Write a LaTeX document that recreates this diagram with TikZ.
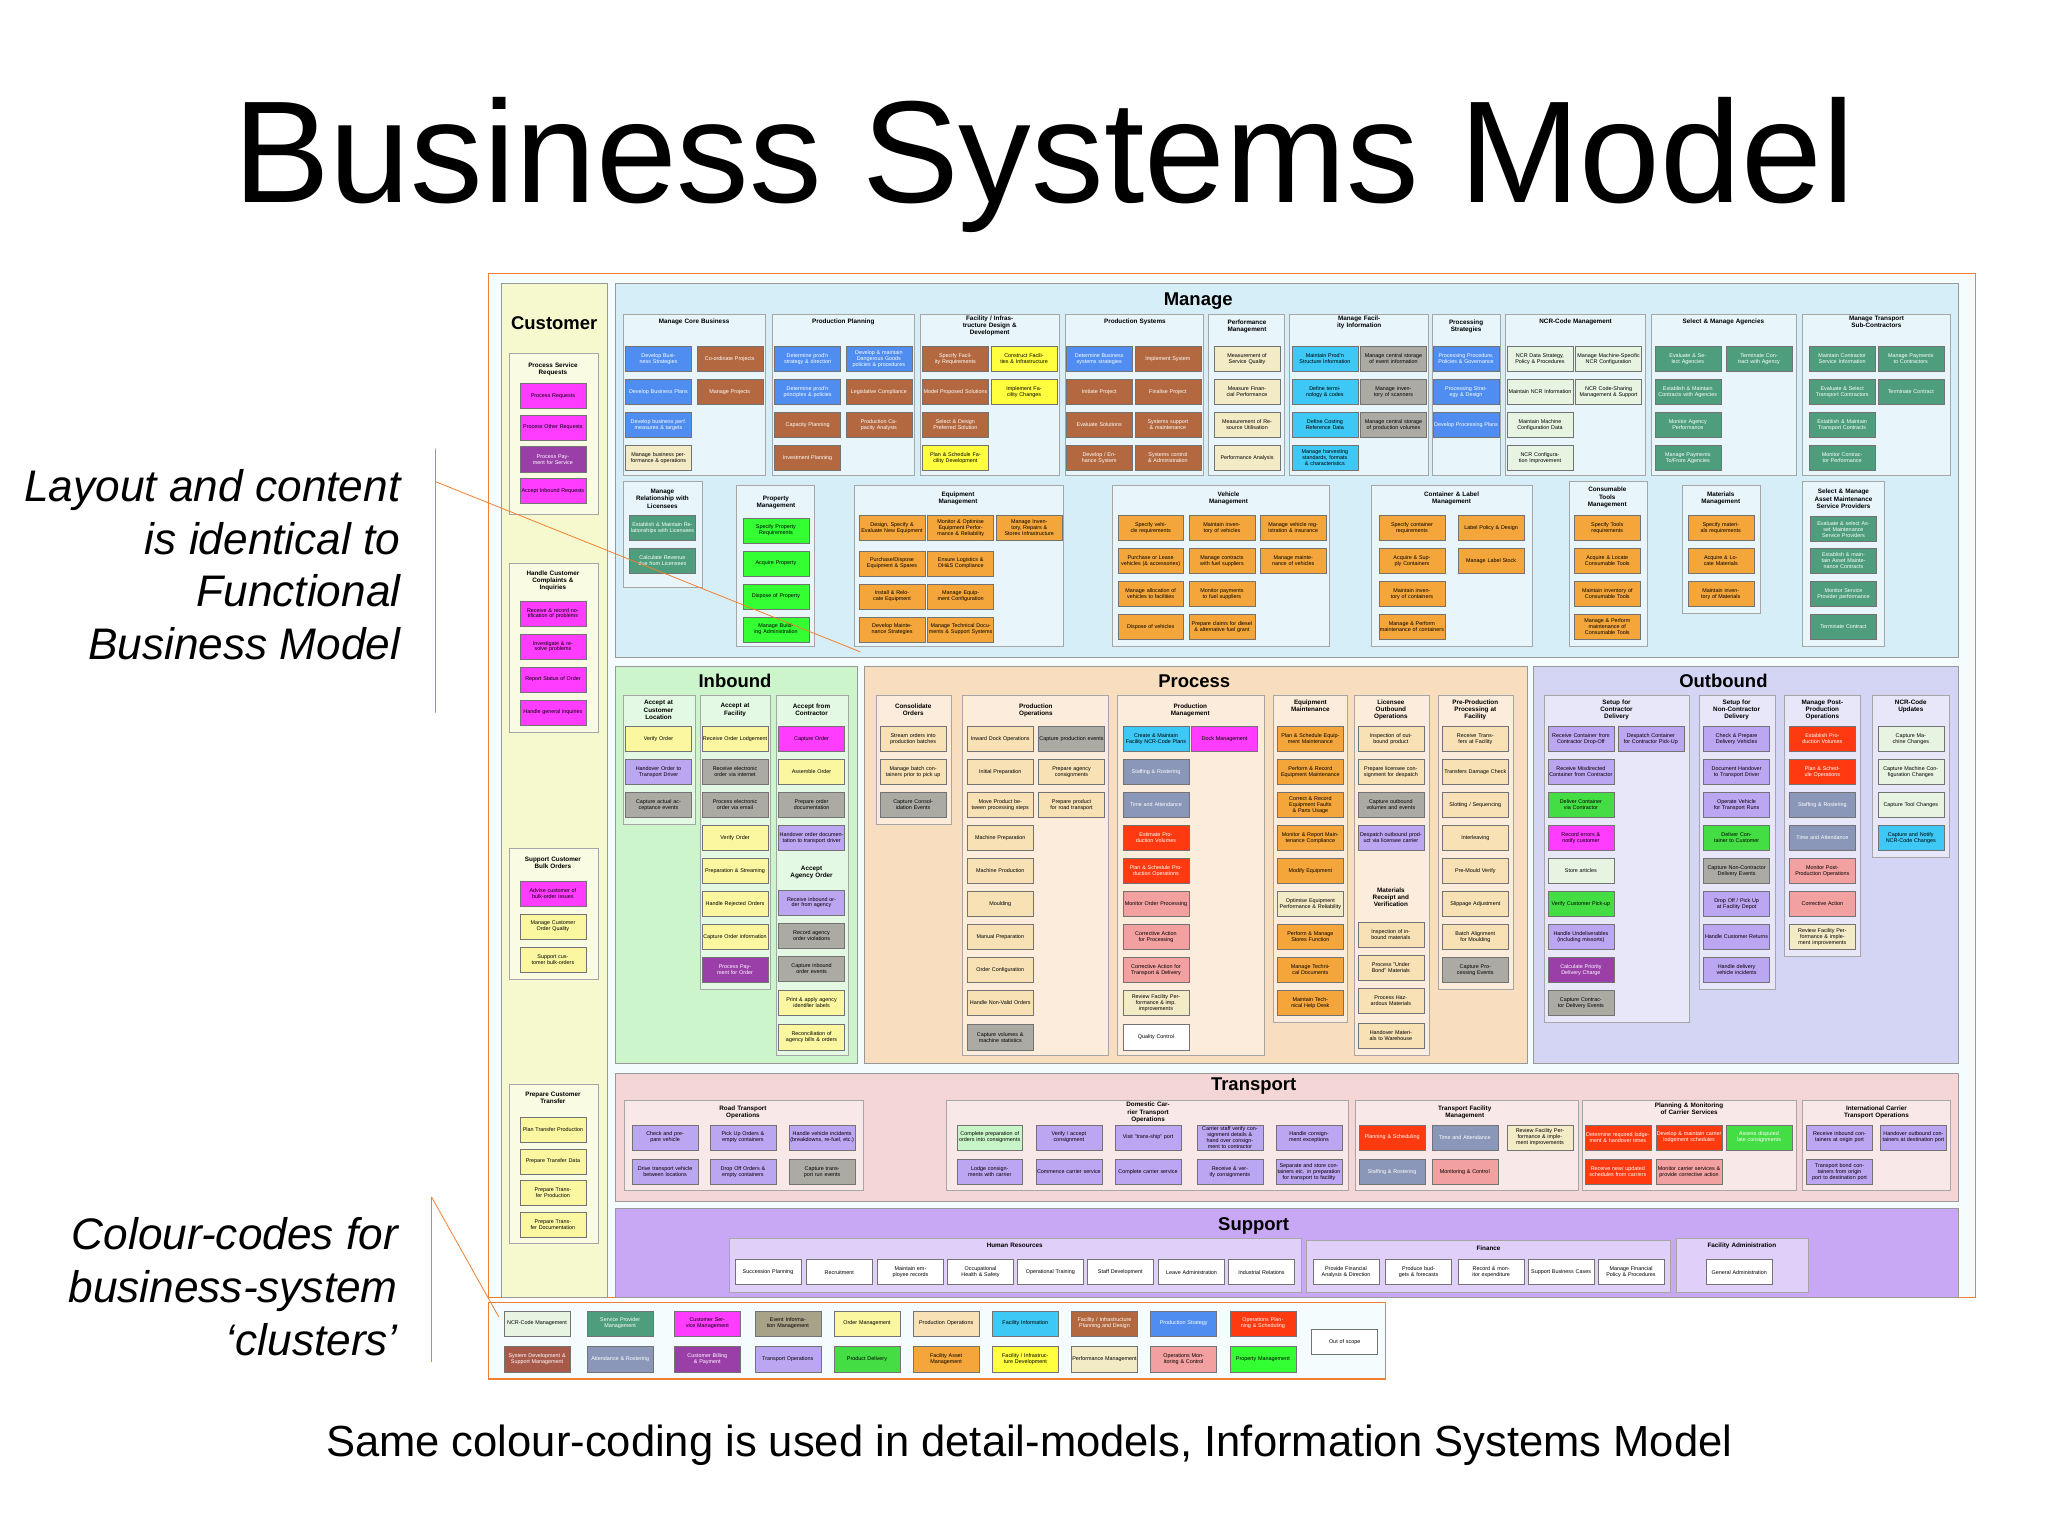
\documentclass[tikz,border=0pt]{standalone}
\usepackage{fontspec}
\setmainfont{Liberation Sans}
\begin{document}
\begin{tikzpicture}[x=1pt,y=-1pt]
\definecolor{cY}{HTML}{FAF7A0}\definecolor{cT}{HTML}{4E9E7E}\definecolor{cB}{HTML}{4F8EF0}
\definecolor{cBr}{HTML}{B3683F}\definecolor{cG}{HTML}{ABABA3}\definecolor{cM}{HTML}{FF3CFF}
\definecolor{cPu}{HTML}{9A3FA8}\definecolor{cL}{HTML}{BBA6F2}\definecolor{cGr}{HTML}{44DD44}
\definecolor{cPG}{HTML}{33FF33}\definecolor{cO}{HTML}{F4A63A}\definecolor{cR}{HTML}{FF3A10}
\definecolor{cC}{HTML}{3DC8F5}\definecolor{cYe}{HTML}{FFFF40}\definecolor{cTan}{HTML}{F3EAC6}
\definecolor{cP}{HTML}{F7E1B5}\definecolor{cPk}{HTML}{F2A0A0}\definecolor{cSb}{HTML}{8A97B8}
\definecolor{cN}{HTML}{E8F4E2}\definecolor{cSD}{HTML}{A85A4A}\definecolor{cEv}{HTML}{A8A288}
\definecolor{frame}{HTML}{F08030}
\tikzset{
 bx/.style={draw=black!55,line width=0.3pt,minimum width=50,minimum height=19,text width=49,align=center,inner sep=0.3pt,font=\fontsize{4.1}{4.5}\selectfont},
 wt/.style={text=white},
 sub/.style={draw=black!35,line width=0.4pt,fill=white,fill opacity=0.45,text opacity=1},
 hd/.style={font=\fontsize{4.8}{5.4}\selectfont\bfseries,align=center,text width=62},
 big/.style={font=\fontsize{14}{16}\selectfont\bfseries},
 ann/.style={font=\fontsize{33.5}{40}\selectfont\itshape,align=right,anchor=east},
 ol/.style={draw=frame,line width=0.8pt}
}
\newcounter{bxc}
\newcommand\Bx[4]{\stepcounter{bxc}\node[bx,fill=#3] (b\arabic{bxc}) at (#1,#2) {#4};}
\newcommand\Wx[4]{\stepcounter{bxc}\node[bx,fill=#3,wt] (b\arabic{bxc}) at (#1,#2) {#4};}
\newcommand\Hd[3]{\stepcounter{bxc}\node[hd] (h\arabic{bxc}) at (#1,#2) {#3};}
\useasboundingbox (0,0) rectangle (1552,1164);
\fill[white] (0,0) rectangle (1552,1164);
% title
\node[font=\fontsize{110}{110}\selectfont] (title) at (791,125) {Business Systems Model};
% annotations
\node[ann] (a1) at (307,428) {Layout and content\\is identical to\\Functional\\Business Model};
\node[ann] (a2) at (305,975) {Colour-codes for\\business-system\\‘clusters’};
\node[font=\fontsize{33}{38}\selectfont] (cap) at (780,1095) {Same colour-coding is used in detail-models, Information Systems Model};
% frame and clusters
\draw[ol,fill=cyan!4] (370,207) rectangle (1497,983);
\draw[black!40,fill={rgb,255:red,245;green,249;blue,205}] (380,215) rectangle (460,983);
\draw[black!40,fill={rgb,255:red,214;green,238;blue,248}] (466,215) rectangle (1484,498);
\draw[black!40,fill={rgb,255:red,204;green,245;blue,204}] (466,505) rectangle (650,806);
\draw[black!40,fill={rgb,255:red,248;green,222;blue,190}] (655,505) rectangle (1157,806);
\draw[black!40,fill={rgb,255:red,212;green,212;blue,245}] (1162,505) rectangle (1484,806);
\draw[black!40,fill={rgb,255:red,245;green,214;blue,214}] (466,813) rectangle (1484,910);
\draw[black!40,fill={rgb,255:red,200;green,168;blue,245}] (466,916) rectangle (1484,983);
\node[big] (tCu) at (420,245) {Customer};
\node[big] (tMa) at (908,228) {Manage};
\node[big] (tIn) at (557,516) {Inbound};
\node[big] (tPr) at (905,516) {Process};
\node[big] (tOu) at (1306,516) {Outbound};
\node[big] (tTr) at (950,823) {Transport};
\node[big] (tSu) at (950,929) {Support};
% ---------------- Customer
\draw[sub] (386,268) rectangle (453,390); \Hd{419}{280}{Process Service\\Requests}
\Bx{419}{300}{cM}{Process Requests}\Bx{419}{324}{cM}{Process Other Requests}\Wx{419}{348}{cPu}{Process Payment for Service}\Bx{419}{372}{cM}{Accept Inbound Requests}
\draw[sub] (386,427) rectangle (453,555); \Hd{419}{440}{Handle Customer\\Complaints \&\\Inquiries}
\Bx{419}{465}{cM}{Receive \& record notification of problems}\Bx{419}{490}{cM}{Investigate \& resolve problems}\Bx{419}{515}{cM}{Report Status of Order}\Bx{419}{540}{cM}{Handle general inquiries}
\draw[sub] (386,643) rectangle (453,742); \Hd{419}{654}{Support Customer\\Bulk Orders}
\Bx{419}{677}{cM}{Advise customer of bulk-order issues}\Bx{419}{702}{cY}{Manage Customer Order Quality}\Bx{419}{727}{cY}{Support customer bulk-orders}
\draw[sub] (386,822) rectangle (453,942); \Hd{419}{832}{Prepare Customer\\Transfer}
\Bx{419}{856}{cY}{Plan Transfer Production}\Bx{419}{880}{cY}{Prepare Transfer Data}\Bx{419}{904}{cY}{Prepare Transfer Production}\Bx{419}{928}{cY}{Prepare Transfer Documentation}
% ---------------- Manage row 1
\draw[sub] (472,238) rectangle (580,360); \Hd{526}{244}{Manage Core Business}
\Wx{499}{272}{cB}{Develop Business Strategies}\Wx{553}{272}{cBr}{Co-ordinate Projects}
\Wx{499}{297}{cB}{Develop Business Plans}\Wx{553}{297}{cBr}{Manage Projects}
\Wx{499}{322}{cB}{Develop business perf. measures \& targets}\Bx{499}{347}{cTan}{Manage business performance \& operations}
\draw[sub] (585,238) rectangle (693,360); \Hd{639}{244}{Production Planning}
\Wx{612}{272}{cB}{Determine prod'n strategy \& direction}\Wx{666}{272}{cB}{Develop \& maintain Dangerous Goods policies \& procedures}
\Wx{612}{297}{cB}{Determine prod'n principles \& policies}\Wx{666}{297}{cBr}{Legislative Compliance}
\Wx{612}{322}{cBr}{Capacity Planning}\Wx{666}{322}{cBr}{Production Capacity Analysis}
\Wx{612}{347}{cBr}{Investment Planning}
\draw[sub] (697,238) rectangle (803,360); \Hd{750}{247}{Facility / Infrastructure Design \&\\Development}
\Wx{724}{272}{cBr}{Specify Facility Requirements}\Bx{776}{272}{cYe}{Construct Facilities \& Infrastructure}
\Wx{724}{297}{cBr}{Model Proposed Solutions}\Bx{776}{297}{cYe}{Implement Facility Changes}
\Wx{724}{322}{cBr}{Select \& Design Preferred Solution}\Bx{724}{347}{cYe}{Plan \& Schedule Facility Development}
\draw[sub] (807,238) rectangle (912,360); \Hd{860}{244}{Production Systems}
\Wx{833}{272}{cB}{Determine Business systems strategies}\Wx{885}{272}{cBr}{Implement System}
\Wx{833}{297}{cBr}{Initiate Project}\Wx{885}{297}{cBr}{Finalise Project}
\Wx{833}{322}{cBr}{Evaluate Solutions}\Wx{885}{322}{cBr}{Systems support \& maintenance}
\Wx{833}{347}{cBr}{Develop / Enhance System}\Wx{885}{347}{cBr}{Systems control \& Administration}
\draw[sub] (916,238) rectangle (973,360); \Hd{945}{247}{Performance\\Management}
\Bx{945}{272}{cTan}{Measurement of Service Quality}\Bx{945}{297}{cTan}{Measure Financial Performance}\Bx{945}{322}{cTan}{Measurement of Resource Utilisation}\Bx{945}{347}{cTan}{Performance Analysis}
\draw[sub] (977,238) rectangle (1082,360); \Hd{1030}{244}{Manage Facility Information}
\Bx{1004}{272}{cC}{Maintain Prod'n Structure Information}\Bx{1056}{272}{cG}{Manage central storage of event information}
\Bx{1004}{297}{cC}{Define terminology \& codes}\Bx{1056}{297}{cG}{Manage inventory of scanners}
\Bx{1004}{322}{cC}{Define Costing Reference Data}\Bx{1056}{322}{cG}{Manage central storage of production volumes}
\Bx{1004}{347}{cC}{Manage harvesting standards, formats \& characteristics}
\draw[sub] (1085,238) rectangle (1137,360); \Hd{1111}{247}{Processing\\Strategies}
\Wx{1111}{272}{cB}{Processing Procedure, Policies \& Governance}\Wx{1111}{297}{cB}{Processing Strategy \& Design}\Wx{1111}{322}{cB}{Develop Processing Plans}
\draw[sub] (1141,238) rectangle (1247,360); \Hd{1194}{244}{NCR-Code Management}
\Bx{1167}{272}{cN}{NCR Data Strategy, Policy \& Procedures}\Bx{1219}{272}{cN}{Manage Machine-Specific NCR Configuration}
\Bx{1167}{297}{cN}{Maintain NCR Information}\Bx{1219}{297}{cN}{NCR Code-Sharing Management \& Support}
\Bx{1167}{322}{cN}{Maintain Machine Configuration Data}\Bx{1167}{347}{cN}{NCR Configuration Improvement}
\draw[sub] (1251,238) rectangle (1361,360); \Hd{1306}{244}{Select \& Manage Agencies}
\Wx{1279}{272}{cT}{Evaluate \& Select Agencies}\Wx{1333}{272}{cT}{Terminate Contract with Agency}
\Wx{1279}{297}{cT}{Establish \& Maintain Contracts with Agencies}\Wx{1279}{322}{cT}{Monitor Agency Performance}\Wx{1279}{347}{cT}{Manage Payments To/From Agencies}
\draw[sub] (1366,238) rectangle (1478,360); \Hd{1422}{244}{Manage Transport Sub-Contractors}
\Wx{1396}{272}{cT}{Maintain Contractor Service Information}\Wx{1448}{272}{cT}{Manage Payments to Contractors}
\Wx{1396}{297}{cT}{Evaluate \& Select Transport Contractors}\Wx{1448}{297}{cT}{Terminate Contract}
\Wx{1396}{322}{cT}{Establish \& Maintain Transport Contracts}\Wx{1396}{347}{cT}{Monitor Contractor Performance}
% ---------------- Manage row 2
\draw[sub] (472,365) rectangle (532,445); \Hd{502}{378}{Manage\\Relationship with\\Licensees}
\Wx{502}{400}{cT}{Establish \& Maintain Relationships with Licensees}\Wx{502}{425}{cT}{Calculate Revenue due from Licensees}
\draw[sub] (558,368) rectangle (617,490); \Hd{588}{381}{Property\\Management}
\Bx{588}{402}{cPG}{Specify Property Requirements}\Bx{588}{427}{cPG}{Acquire Property}\Bx{588}{452}{cPG}{Dispose of Property}\Bx{588}{477}{cPG}{Manage Building Administration}
\draw[sub] (647,368) rectangle (806,490); \Hd{726}{378}{Equipment\\Management}
\Bx{676}{400}{cO}{Design, Specify \& Evaluate New Equipment}\Bx{728}{400}{cO}{Monitor \& Optimise Equipment Performance \& Reliability}\Bx{780}{400}{cO}{Manage Inventory, Repairs \& Stores Infrastructure}
\Bx{676}{427}{cO}{Purchase/Dispose Equipment \& Spares}\Bx{728}{427}{cO}{Ensure Logistics \& OH\&S Compliance}
\Bx{676}{452}{cO}{Install \& Relocate Equipment}\Bx{728}{452}{cO}{Manage Equipment Configuration}
\Bx{676}{477}{cO}{Develop Maintenance Strategies}\Bx{728}{477}{cO}{Manage Technical Documents \& Support Systems}
\draw[sub] (843,368) rectangle (1007,490); \Hd{931}{378}{Vehicle\\Management}
\Bx{872}{400}{cO}{Specify vehicle requirements}\Bx{926}{400}{cO}{Maintain inventory of vehicles}\Bx{980}{400}{cO}{Manage vehicle registration \& insurance}
\Bx{872}{425}{cO}{Purchase or Lease vehicles (\& accessories)}\Bx{926}{425}{cO}{Manage contracts with fuel suppliers}\Bx{980}{425}{cO}{Manage maintenance of vehicles}
\Bx{872}{450}{cO}{Manage allocation of vehicles to facilities}\Bx{926}{450}{cO}{Monitor payments to fuel suppliers}
\Bx{872}{475}{cO}{Dispose of vehicles}\Bx{926}{475}{cO}{Prepare claims for diesel \& alternative fuel grant}
\draw[sub] (1039,368) rectangle (1161,490); \Hd{1100}{378}{Container \& Label\\Management}
\Bx{1070}{400}{cO}{Specify container requirements}\Bx{1130}{400}{cO}{Label Policy \& Design}
\Bx{1070}{425}{cO}{Acquire \& Supply Containers}\Bx{1130}{425}{cO}{Manage Label Stock}
\Bx{1070}{450}{cO}{Maintain inventory of containers}\Bx{1070}{475}{cO}{Manage \& Perform maintenance of containers}
\draw[sub] (1189,365) rectangle (1248,490); \Hd{1218}{377}{Consumable\\Tools\\Management}
\Bx{1218}{400}{cO}{Specify Tools requirements}\Bx{1218}{425}{cO}{Acquire \& Locate Consumable Tools}\Bx{1218}{450}{cO}{Maintain inventory of Consumable Tools}\Bx{1218}{475}{cO}{Manage \& Perform maintenance of Consumable Tools}
\draw[sub] (1275,368) rectangle (1334,465); \Hd{1304}{378}{Materials\\Management}
\Bx{1304}{400}{cO}{Specify materials requirements}\Bx{1304}{425}{cO}{Acquire \& Locate Materials}\Bx{1304}{450}{cO}{Maintain inventory of Materials}
\draw[sub] (1366,365) rectangle (1428,490); \Hd{1397}{378}{Select \& Manage\\Asset Maintenance\\Service Providers}
\Wx{1397}{401}{cT}{Evaluate \& select Asset Maintenance Service Providers}\Wx{1397}{425}{cT}{Establish \& maintain Asset Maintenance Contracts}\Wx{1397}{450}{cT}{Monitor Service Provider performance}\Wx{1397}{475}{cT}{Terminate Contract}
% ---------------- Inbound
\draw[sub] (472,527) rectangle (527,625); \Hd{499}{538}{Accept at\\Customer\\Location}
\Bx{499}{560}{cY}{Verify Order}\Bx{499}{585}{cL}{Handover Order to Transport Driver}\Bx{499}{610}{cG}{Capture actual acceptance events}
\draw[sub] (531,527) rectangle (584,750); \Hd{557}{538}{Accept at\\Facility}
\Bx{557}{560}{cY}{Receive Order Lodgement}\Bx{557}{585}{cG}{Receive electronic order via internet}\Bx{557}{610}{cG}{Process electronic order via email}\Bx{557}{635}{cY}{Verify Order}
\Bx{557}{660}{cY}{Preparation \& Streaming}\Bx{557}{685}{cY}{Handle Rejected Orders}\Bx{557}{710}{cY}{Capture Order information}\Wx{557}{735}{cPu}{Process Payment for Order}
\draw[sub] (588,527) rectangle (643,800); \Hd{615}{538}{Accept from\\Contractor}
\Bx{615}{560}{cM}{Capture Order}\Bx{615}{585}{cY}{Assemble Order}\Bx{615}{610}{cG}{Prepare order documentation}\Bx{615}{635}{cL}{Handover order documentation to transport driver}
\Hd{615}{661}{Accept\\Agency Order}
\Bx{615}{684}{cL}{Receive inbound order from agency}\Bx{615}{709}{cG}{Record agency order violations}\Bx{615}{734}{cG}{Capture inbound order events}\Bx{615}{760}{cY}{Print \& apply agency identifier labels}\Bx{615}{786}{cY}{Reconciliation of agency bills \& orders}
% ---------------- Process
\draw[sub] (664,527) rectangle (721,625); \Hd{692}{538}{Consolidate\\Orders}
\Bx{692}{560}{cP}{Stream orders into production batches}\Bx{692}{585}{cP}{Manage batch containers prior to pick up}\Bx{692}{610}{cG}{Capture Consolidation Events}
\draw[sub] (729,527) rectangle (840,800); \Hd{785}{538}{Production\\Operations}
\Bx{758}{560}{cP}{Inward Dock Operations}\Bx{812}{560}{cG}{Capture production events}
\Bx{758}{585}{cP}{Initial Preparation}\Bx{812}{585}{cP}{Prepare agency consignments}
\Bx{758}{610}{cP}{Move Product between processing steps}\Bx{812}{610}{cP}{Prepare product for road transport}
\Bx{758}{635}{cP}{Machine Preparation}\Bx{758}{660}{cP}{Machine Production}\Bx{758}{685}{cP}{Moulding}\Bx{758}{710}{cP}{Manual Preparation}\Bx{758}{735}{cP}{Order Configuration}\Bx{758}{760}{cP}{Handle Non-Valid Orders}\Bx{758}{786}{cG}{Capture volumes \& machine statistics}
\draw[sub] (847,527) rectangle (958,800); \Hd{902}{538}{Production\\Management}
\Bx{876}{560}{cC}{Create \& Maintain Facility NCR-Code Plans}\Bx{928}{560}{cM}{Dock Management}
\Wx{876}{585}{cSb}{Staffing \& Rostering}\Wx{876}{610}{cSb}{Time and Attendance}\Wx{876}{635}{cR}{Estimate Production Volumes}\Wx{876}{660}{cR}{Plan \& Schedule Production Operations}
\Bx{876}{685}{cPk}{Monitor Order Processing}\Bx{876}{710}{cPk}{Corrective Action for Processing}\Bx{876}{735}{cPk}{Corrective Action for Transport \& Delivery}\Bx{876}{760}{cTan}{Review Facility Performance \& imp. improvements}\Bx{876}{786}{white}{Quality Control}
\draw[sub] (965,527) rectangle (1021,775); \Hd{993}{535}{Equipment\\Maintenance}
\Bx{993}{560}{cO}{Plan \& Schedule Equipment Maintenance}\Bx{993}{585}{cO}{Perform \& Record Equipment Maintenance}\Bx{993}{610}{cO}{Correct \& Record Equipment Faults \& Parts Usage}\Bx{993}{635}{cO}{Monitor \& Report Maintenance Compliance}
\Bx{993}{660}{cO}{Modify Equipment}\Bx{993}{685}{cTan}{Optimise Equipment Performance \& Reliability}\Bx{993}{710}{cO}{Perform \& Manage Stores Function}\Bx{993}{735}{cO}{Manage Technical Documents}\Bx{993}{760}{cO}{Maintain Technical Help Desk}
\draw[sub] (1026,527) rectangle (1083,800); \Hd{1054}{538}{Licensee\\Outbound\\Operations}
\Bx{1054}{560}{cP}{Inspection of outbound product}\Bx{1054}{585}{cP}{Prepare licensee consignment for despatch}\Bx{1054}{610}{cG}{Capture outbound volumes and events}\Bx{1054}{635}{cL}{Despatch outbound product via licensee carrier}
\Hd{1054}{680}{Materials\\Receipt and\\Verification}
\Bx{1054}{708}{cP}{Inspection of inbound materials}\Bx{1054}{733}{cP}{Process "Under Bond" Materials}\Bx{1054}{758}{cP}{Process Hazardous Materials}\Bx{1054}{785}{cP}{Handover Materials to Warehouse}
\draw[sub] (1090,527) rectangle (1147,750); \Hd{1118}{538}{Pre-Production\\Processing at\\Facility}
\Bx{1118}{560}{cP}{Receive Transfers at Facility}\Bx{1118}{585}{cP}{Transfers Damage Check}\Bx{1118}{610}{cP}{Slotting / Sequencing}\Bx{1118}{635}{cP}{Interleaving}\Bx{1118}{660}{cP}{Pre-Mould Verify}\Bx{1118}{685}{cP}{Slippage Adjustment}\Bx{1118}{710}{cP}{Batch Alignment for Moulding}\Bx{1118}{735}{cG}{Capture Processing Events}
% ---------------- Outbound
\draw[sub] (1170,527) rectangle (1280,775); \Hd{1225}{538}{Setup for\\Contractor\\Delivery}
\Bx{1198}{560}{cL}{Receive Container from Contractor Drop-Off}\Bx{1251}{560}{cL}{Despatch Container for Contractor Pick-Up}
\Bx{1198}{585}{cL}{Receive Misdirected Container from Contractor}\Bx{1198}{610}{cGr}{Deliver Container via Contractor}\Bx{1198}{635}{cM}{Record errors \& notify customer}\Bx{1198}{660}{cN}{Store articles}
\Bx{1198}{685}{cGr}{Verify Customer Pick-up}\Bx{1198}{710}{cL}{Handle Undeliverables (including missorts)}\Wx{1198}{735}{cPu}{Calculate Priority Delivery Charge}\Bx{1198}{760}{cG}{Capture Contractor Delivery Events}
\draw[sub] (1288,527) rectangle (1345,750); \Hd{1316}{538}{Setup for\\Non-Contractor\\Delivery}
\Bx{1316}{560}{cL}{Check \& Prepare Delivery Vehicles}\Bx{1316}{585}{cL}{Document Handover to Transport Driver}\Bx{1316}{610}{cL}{Operate Vehicle for Transport Runs}\Bx{1316}{635}{cGr}{Deliver Container to Customer}
\Bx{1316}{660}{cG}{Capture Non-Contractor Delivery Events}\Bx{1316}{685}{cL}{Drop Off / Pick Up at Facility Depot}\Bx{1316}{710}{cL}{Handle Customer Returns}\Bx{1316}{735}{cL}{Handle delivery vehicle incidents}
\draw[sub] (1352,527) rectangle (1410,725); \Hd{1381}{538}{Manage Post-\\Production\\Operations}
\Wx{1381}{560}{cR}{Establish Production Volumes}\Wx{1381}{585}{cR}{Plan \& Schedule Operations}\Wx{1381}{610}{cSb}{Staffing \& Rostering}\Wx{1381}{635}{cSb}{Time and Attendance}
\Bx{1381}{660}{cPk}{Monitor Post-Production Operations}\Bx{1381}{685}{cPk}{Corrective Action}\Bx{1381}{710}{cTan}{Review Facility Performance \& implement improvements}
\draw[sub] (1419,527) rectangle (1477,650); \Hd{1448}{535}{NCR-Code\\Updates}
\Bx{1448}{560}{cN}{Capture Machine Changes}\Bx{1448}{585}{cN}{Capture Machine Configuration Changes}\Bx{1448}{610}{cN}{Capture Tool Changes}\Bx{1448}{635}{cC}{Capture and Notify NCR-Code Changes}
% ---------------- Transport
\draw[sub] (473,834) rectangle (654,902); \Hd{563}{843}{Road Transport\\Operations}
\Bx{504}{862}{cL}{Check and prepare vehicle}\Bx{563}{862}{cL}{Pick Up Orders \& empty containers}\Bx{623}{862}{cL}{Handle vehicle incidents (breakdowns, re-fuel, etc.)}
\Bx{504}{888}{cL}{Drive transport vehicle between locations}\Bx{563}{888}{cL}{Drop Off Orders \& empty containers}\Bx{623}{888}{cG}{Capture transport run events}
\draw[sub] (717,834) rectangle (1022,902); \Hd{870}{843}{Domestic Carrier Transport\\Operations}
\Bx{750}{862}{cGr!30}{Complete preparation of orders into consignments}\Bx{810}{862}{cL}{Verify / accept consignment}\Bx{870}{862}{cL}{Visit "trans-ship" port}\Bx{932}{862}{cL}{Carrier staff verify consignment details \& hand over consignment to contractor}\Bx{992}{862}{cL}{Handle consignment exceptions}
\Bx{750}{888}{cL}{Lodge consignments with carrier}\Bx{810}{888}{cL}{Commence carrier service}\Bx{870}{888}{cL}{Complete carrier service}\Bx{932}{888}{cL}{Receive \& verify consignments}\Bx{992}{888}{cL}{Separate and store containers etc. in preparation for transport to facility}
\draw[sub] (1027,834) rectangle (1196,902); \Hd{1110}{843}{Transport Facility\\Management}
\Wx{1055}{862}{cR}{Planning \& Scheduling}\Wx{1110}{862}{cSb}{Time and Attendance}\Bx{1167}{862}{cTan}{Review Facility Performance \& implement improvements}
\Wx{1055}{888}{cSb}{Staffing \& Rostering}\Bx{1110}{888}{cPk}{Monitoring \& Control}
\draw[sub] (1199,834) rectangle (1361,902); \Hd{1280}{840}{Planning \& Monitoring of Carrier Services}
\Wx{1226}{862}{cR}{Determine required lodgement \& handover times}\Wx{1280}{862}{cR}{Develop \& maintain carrier lodgement schedules}\Wx{1333}{862}{cGr}{Assess disputed late consignments}
\Wx{1226}{888}{cR}{Receive new/ updated schedules from carriers}\Bx{1280}{888}{cPk}{Monitor carrier services \& provide corrective action}
\draw[sub] (1366,834) rectangle (1478,902); \Hd{1422}{843}{International Carrier\\Transport Operations}
\Bx{1394}{862}{cL}{Receive inbound containers at origin port}\Bx{1450}{862}{cL}{Handover outbound containers at destination port}
\Bx{1394}{888}{cL}{Transport bond containers from origin port to destination port}
% ---------------- Support
\draw[sub] (553,938) rectangle (986,979); \Hd{769}{944}{Human Resources}
\Bx{582}{964}{white}{Succession Planning}\Bx{636}{964}{white}{Recruitment}\Bx{690}{964}{white}{Maintain employee records}\Bx{743}{964}{white}{Occupational Health \& Safety}\Bx{796}{964}{white}{Operational Training}\Bx{849}{964}{white}{Staff Development}\Bx{903}{964}{white}{Leave Administration}\Bx{956}{964}{white}{Industrial Relations}
\draw[sub] (990,940) rectangle (1266,979); \Hd{1128}{946}{Finance}
\Bx{1020}{964}{white}{Provide Financial Analysis \& Direction}\Bx{1075}{964}{white}{Produce budgets \& forecasts}\Bx{1130}{964}{white}{Record \& monitor expenditure}\Bx{1183}{964}{white}{Support Business Cases}\Bx{1236}{964}{white}{Manage Financial Policy \& Procedures}
\draw[sub] (1270,938) rectangle (1370,979); \Hd{1320}{944}{Facility Administration}
\Bx{1318}{964}{white}{General Administration}
% ---------------- Legend
\draw[ol,fill=cyan!4] (370,987) rectangle (1050,1045);
\Bx{407}{1003}{cN}{NCR-Code Management}\Wx{470}{1003}{cT}{Service Provider Management}\Bx{536}{1003}{cM}{Customer Service Management}\Bx{597}{1003}{cEv}{Event Information Management}\Bx{657}{1003}{cY}{Order Management}\Bx{717}{1003}{cP}{Production Operations}\Bx{777}{1003}{cC}{Facility Information}\Wx{837}{1003}{cBr}{Facility / Infrastructure Planning and Design}\Wx{897}{1003}{cB}{Production Strategy}\Wx{957}{1003}{cR}{Operations Planning \& Scheduling}
\Wx{407}{1030}{cSD}{System Development \& Support Management}\Wx{470}{1030}{cSb}{Attendance \& Rostering}\Wx{536}{1030}{cPu}{Customer Billing \& Payment}\Bx{597}{1030}{cL}{Transport Operations}\Bx{657}{1030}{cGr}{Product Delivery}\Bx{717}{1030}{cO}{Facility Asset Management}\Bx{777}{1030}{cYe}{Facility / Infrastructure Development}\Bx{837}{1030}{cTan}{Performance Management}\Bx{897}{1030}{cPk}{Operations Monitoring \& Control}\Bx{957}{1030}{cPG}{Property Management}
\Bx{1019}{1017}{white}{Out of scope}
% annotation pointer lines (on top)
\coordinate (v1t) at (330,340);\coordinate (v1b) at (330,540);\coordinate (v1m) at (330,365);\coordinate (v1e) at (652,494);
\draw[ol,line width=0.6pt] (v1t)--(v1b) (v1m)--(v1e);
\coordinate (v2t) at (327,907);\coordinate (v2b) at (327,1032);\coordinate (v2e) at (378,998);
\draw[ol,line width=0.6pt] (v2t)--(v2b) (v2t)--(v2e);
\end{tikzpicture}
\end{document}
